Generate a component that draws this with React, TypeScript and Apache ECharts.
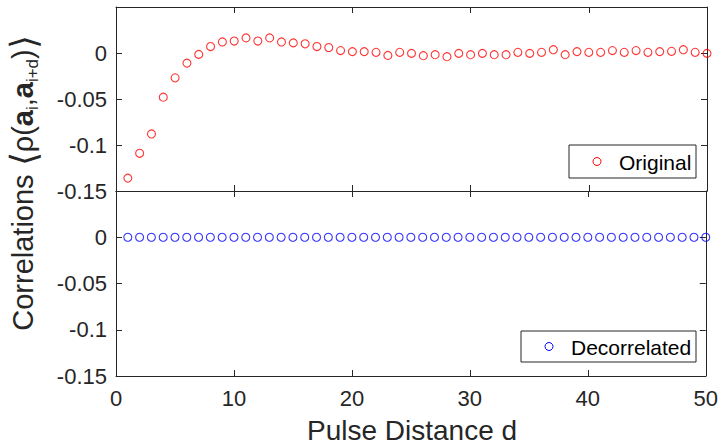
import React, { useEffect, useRef } from "react";
import * as echarts from "echarts";

// Pulse distance d (1..50)
const distances = [
  1, 2, 3, 4, 5, 6, 7, 8, 9, 10, 11, 12, 13, 14, 15, 16, 17, 18, 19, 20, 21, 22, 23, 24, 25,
  26, 27, 28, 29, 30, 31, 32, 33, 34, 35, 36, 37, 38, 39, 40, 41, 42, 43, 44, 45, 46, 47, 48, 49, 50,
];

// Mean correlation of the original pulse sequence
const originalCorr = [
  -0.136, -0.109, -0.088, -0.048, -0.027, -0.011, -0.0015, 0.007, 0.012, 0.013,
  0.0164, 0.013, 0.0164, 0.012, 0.011, 0.010, 0.007, 0.006, 0.0026, 0.0015,
  0.0015, 0.0007, -0.0026, 0.0007, -0.0004, -0.0029, -0.0018, -0.004, -0.0004, -0.0018,
  -0.0004, -0.0018, -0.0018, 0.0007, -0.0004, 0.0007, 0.0036, -0.0018, 0.0015, 0.0007,
  0.0007, 0.0026, 0.0007, 0.0026, 0.0007, 0.0015, 0.0018, 0.0036, 0.0007, -0.0004,
];

// Mean correlation after decorrelation
const decorrelatedCorr = [
  0, 0, 0, 0, 0, 0, 0, 0, 0, 0,
  0, 0, 0, 0, 0, 0, 0, 0, 0, 0,
  0, 0, 0, 0, 0, 0, 0, 0, 0, 0,
  0, 0, 0, 0, 0, 0, 0, 0, 0, 0,
  0, 0, 0, 0, 0, 0, 0, 0, 0, 0,
];

const xTicks = { min: 0, max: 50, interval: 10 };
const yTicks = { min: -0.15, max: 0.05, interval: 0.05 };

const FONT = "'Liberation Sans', Arial, Helvetica, sans-serif";
const AX = "#262626";

const fmtY = (v: number) => (v > 0.01 ? "" : String(parseFloat(v.toFixed(2))));

function xAxis(gridIndex: number, position: "top" | "bottom", labels: boolean) {
  return {
    type: "value",
    gridIndex,
    position,
    min: xTicks.min,
    max: xTicks.max,
    interval: xTicks.interval,
    axisLine: { show: true, onZero: false, lineStyle: { color: AX, width: 1 } },
    axisTick: { show: true, inside: true, length: 6, lineStyle: { color: AX } },
    axisLabel: { show: labels, color: AX, fontSize: 22, fontFamily: FONT, margin: 11 },
    splitLine: { show: false },
  };
}

function yAxis(gridIndex: number, position: "left" | "right", labels: boolean) {
  return {
    type: "value",
    gridIndex,
    position,
    min: yTicks.min,
    max: yTicks.max,
    interval: yTicks.interval,
    axisLine: { show: true, onZero: false, lineStyle: { color: AX, width: 1 } },
    axisTick: { show: true, inside: true, length: 6, lineStyle: { color: AX } },
    axisLabel: { show: labels, color: AX, fontSize: 22, fontFamily: FONT, margin: 9, formatter: fmtY },
    splitLine: { show: false },
  };
}

function legendBox(x: number, y: number, w: number, h: number, label: string, color: string) {
  return {
    type: "group",
    z: 100,
    children: [
      {
        type: "rect",
        shape: { x, y, width: w, height: h },
        style: { fill: "#ffffff", stroke: AX, lineWidth: 1 },
      },
      {
        type: "circle",
        shape: { cx: x + 28, cy: y + h / 2, r: 4 },
        style: { fill: "none", stroke: color, lineWidth: 1 },
      },
      {
        type: "text",
        x: x + 50,
        y: y + h / 2 + 1,
        style: {
          text: label,
          font: `21px ${FONT}`,
          fill: "#000000",
          verticalAlign: "middle",
          align: "left",
        },
      },
    ],
  };
}

export default function App() {
  const ref = useRef<HTMLDivElement>(null);

  useEffect(() => {
    if (!ref.current) return;
    const chart = echarts.init(ref.current, undefined, { renderer: "svg" });
    const marker = (color: string) => ({
      color: "rgba(0,0,0,0)",
      borderColor: color,
      borderWidth: 1.1,
    });
    chart.setOption({
      animation: false,
      backgroundColor: "#ffffff",
      grid: [
        { left: 116, top: 7, width: 591, height: 184 },
        { left: 116, top: 191, width: 591, height: 185 },
      ],
      xAxis: [
        xAxis(0, "bottom", false),
        xAxis(0, "top", false),
        xAxis(1, "bottom", true),
        xAxis(1, "top", false),
      ],
      yAxis: [
        yAxis(0, "left", true),
        yAxis(0, "right", false),
        yAxis(1, "left", true),
        yAxis(1, "right", false),
      ],
      series: [
        {
          name: "Original",
          type: "scatter",
          xAxisIndex: 0,
          yAxisIndex: 0,
          symbol: "circle",
          symbolSize: 8,
          clip: false,
          itemStyle: marker("#ff0000"),
          data: distances.map((d, i) => [d, originalCorr[i]]),
        },
        {
          name: "Decorrelated",
          type: "scatter",
          xAxisIndex: 2,
          yAxisIndex: 2,
          symbol: "circle",
          symbolSize: 8,
          clip: false,
          itemStyle: marker("#0000ff"),
          data: distances.map((d, i) => [d, decorrelatedCorr[i]]),
        },
      ],
      graphic: [
        legendBox(569, 145, 127, 33, "Original", "#ff0000"),
        legendBox(521, 331, 175, 31, "Decorrelated", "#0000ff"),
        {
          type: "text",
          x: 412,
          y: 430,
          style: {
            text: "Pulse Distance d",
            font: `28px ${FONT}`,
            fill: AX,
            align: "center",
            verticalAlign: "middle",
          },
        },
        {
          type: "text",
          x: 23,
          y: 183,
          rotation: Math.PI / 2,
          style: {
            text: "{n|Correlations }{k|⟨}{n|ρ(}{b|a}{s|i}{n|,}{b|a}{s|i+d}{n|)}{k|⟩}",
            fill: AX,
            align: "center",
            verticalAlign: "middle",
            rich: {
              n: { fontSize: 29, fontFamily: FONT, lineHeight: 36, verticalAlign: "middle", fill: AX },
              k: { fontSize: 36, fontFamily: FONT, lineHeight: 36, verticalAlign: "middle", fill: AX },
              b: { fontSize: 29, fontFamily: FONT, fontWeight: "bold", lineHeight: 36, verticalAlign: "middle", fill: AX },
              s: { fontSize: 17, fontFamily: FONT, lineHeight: 17, verticalAlign: "bottom", fill: AX },
            },
          },
        },
      ],
    });
    return () => chart.dispose();
  }, []);

  return (
    <div
      ref={ref}
      style={{ position: "fixed", left: 0, top: 0, width: 721, height: 445, background: "#fff" }}
    />
  );
}
